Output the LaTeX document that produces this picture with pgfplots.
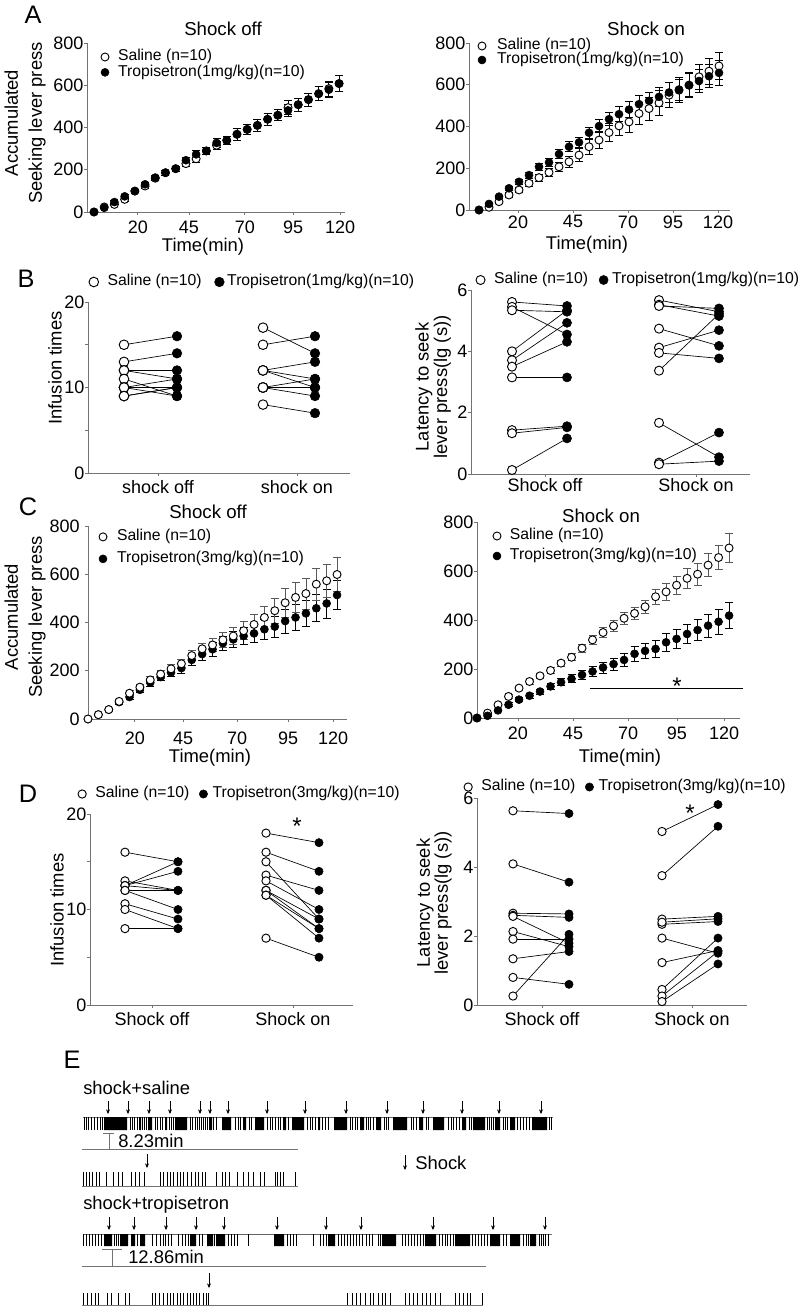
\documentclass[border=0pt]{standalone}
\usepackage{fontspec}
\setmainfont{Liberation Sans}
\usepackage{pgfplots}
\usepackage{pgfplotstable}
\pgfplotsset{compat=1.18}
\usetikzlibrary{arrows.meta}
\definecolor{axgray}{gray}{0.45}
\newcommand\tk{\fontsize{13.5}{16}\selectfont}
\newcommand\lab{\fontsize{13.8}{16}\selectfont}
\newcommand\lgf{\fontsize{11.8}{14}\selectfont}
\newcommand\ttl{\fontsize{14}{16}\selectfont}
\newcommand\pl{\fontsize{19}{22}\selectfont}
\newcommand\st{\fontsize{18}{20}\selectfont}

\pgfplotstableread{
t s se d de
0 0 0 0 0
5 24 4 20 4
10 36 6 47 6
15 60 8 74 8
20 99 8 99 8
25 123 10 131 10
30 160 10 163 10
35 186 12 186 12
40 205 12 205 12
45 229 14 245 14
50 252 16 273 18
55 289 16 289 16
60 316 18 327 20
65 339 20 339 20
70 368 28 368 30
75 391 26 391 26
80 410 28 410 28
85 439 28 439 28
90 458 26 458 26
95 494 32 481 30
100 508 30 508 30
105 532 30 532 30
110 560 34 560 34
115 584 36 579 36
120 608 38 608 38
}\Aoff

\pgfplotstableread{
t s se d de
0 0 0 0 0
5 13 5 29 5
10 40 8 64 8
15 72 10 104 10
20 96 12 135 12
25 128 14 167 14
30 155 16 207 16
35 180 18 228 18
40 207 22 268 22
45 231 26 303 24
50 263 30 324 26
55 303 35 370 28
60 335 40 402 30
65 371 42 435 32
70 403 48 459 36
75 422 50 481 38
80 462 52 507 40
85 486 55 523 42
90 513 58 542 46
95 550 60 563 48
100 574 60 577 50
105 598 60 598 56
110 638 58 618 55
115 665 62 641 55
120 690 66 657 58
}\Aon

\pgfplotstableread{
t s se d de
0 0 0 0 0
5 18 4 18 4
10 39 6 39 6
15 73 8 70 8
20 107 10 91 10
25 132 12 121 12
30 162 14 151 14
35 186 16 174 16
40 208 18 193 18
45 229 20 211 20
50 263 22 245 22
55 291 24 269 24
60 307 28 289 28
65 328 30 314 30
70 344 34 330 32
75 366 38 344 34
80 392 42 355 36
85 421 46 372 40
90 449 52 383 44
95 482 60 406 50
100 504 64 421 54
105 520 64 438 54
110 559 66 459 56
115 573 68 479 60
120 599 72 514 60
}\Coff

\pgfplotstableread{
t s se d de
0 0 0 0 0
5 20 4 9 4
10 54 6 31 6
15 88 8 54 8
20 122 8 75 8
25 149 10 91 10
30 172 10 108 10
35 194 12 129 12
40 224 12 146 14
45 248 14 160 16
50 285 16 176 18
55 319 18 190 20
60 349 20 206 22
65 376 22 220 24
70 407 24 237 28
75 427 26 262 30
80 454 28 274 32
85 495 30 282 34
90 515 34 309 36
95 542 38 323 38
100 570 40 343 40
105 587 44 359 44
110 624 48 377 46
115 655 50 393 50
120 694 58 418 52
}\Con

\pgfplotstableread{
soff toff son ton
15 16 17 14
13 14 15 16
12 12 12 13
12 11 12 11
11 9 12 10
10 11 10 11
10 10 10 10
10 9 10 9
9 10 10 10
9 10 8 7
}\Bl

\pgfplotstableread{
soff toff son ton
5.61 5.48 5.67 5.29
5.45 4.55 5.52 5.15
5.34 5.29 5.48 5.40
4.00 5.34 4.74 4.18
3.71 4.93 4.12 4.69
3.50 4.31 3.95 3.77
3.15 3.15 3.37 5.22
1.43 1.56 1.67 0.55
1.33 1.52 0.37 1.35
0.13 1.16 0.32 0.42
}\Br

\pgfplotstableread{
soff toff son ton
16 15 18 17
13 12 16 14
12.5 15 15 9
12.5 14 13.6 12
12.5 12 13 10
12 10 12 9
10.6 9 12 8
10 8 11.5 8
8 8 11.5 7
12 12 7 5
}\Dl

\pgfplotstableread{
soff toff son ton
5.63 5.55 5.03 5.81
4.09 3.56 3.75 5.18
2.66 2.64 2.49 2.57
2.60 2.54 2.34 2.42
2.57 1.79 1.94 1.50
2.13 1.69 1.23 1.58
1.91 1.91 0.45 1.94
1.34 1.55 0.26 1.55
0.80 0.60 0.10 1.19
0.26 2.05 2.40 2.50
}\Dr

\pgfplotsset{
  myax/.style={
    scale only axis, anchor=south west, clip=false,
    axis lines=left, axis line style={-, draw=axgray, line width=0.7pt},
    tick style={draw=axgray, line width=0.7pt},
    tick align=outside, major tick length=2pt, minor tick length=2pt,
    tick label style={font=\tk},
    yticklabel style={inner xsep=0.5pt},
    xticklabel style={inner ysep=1pt},
    /pgf/number format/assume math mode=true,
    /pgf/number format/1000 sep={},
    legend cell align=left,
    legend style={draw=none, fill=none, inner sep=0pt, outer sep=0pt, font=\lgf,
      nodes={inner xsep=0pt, inner ysep=0pt, text height=8pt, text depth=2.5pt}},
    legend image code/.code={\draw[##1] plot coordinates {(0pt,0pt)};},
  },
  sal/.style={only marks, mark=*, mark size=3pt, mark options={fill=white, draw=black, line width=0.7pt}},
  trp/.style={only marks, mark=*, mark size=3pt, mark options={fill=black, draw=black}},
  ebar/.style={error bars/y dir=both, error bars/y explicit,
    error bars/error bar style={black, line width=0.6pt},
    error bars/error mark options={rotate=90, black, mark size=3pt, line width=0.6pt}},
  ebarg/.style={error bars/y dir=both, error bars/y explicit,
    error bars/error bar style={black!65, line width=0.6pt},
    error bars/error mark options={rotate=90, black!65, mark size=3pt, line width=0.6pt}},
  pairline/.style={black, line width=0.5pt},
  rast/.style={black, line width=0.45pt},
  arr/.style={black, line width=0.5pt, -{Stealth[length=3.5pt, width=3pt]}},
  sbar/.style={axgray, line width=0.6pt},
}

\begin{document}
\begin{tikzpicture}[x=0.75pt, y=-0.75pt]
\path[use as bounding box] (0,0) rectangle (798,1306);
\coordinate (pAL) at (87,212);
\coordinate (pAR) at (469,210);
\coordinate (pBL) at (88,473);
\coordinate (pBR) at (471,474);
\coordinate (pCL) at (88,719);
\coordinate (pCR) at (477,718);
\coordinate (pDL) at (90,1005);
\coordinate (pDR) at (477,1005);
\coordinate (pE) at (315,1193);

% ---------------- A left
\begin{axis}[myax, at={(pAL)}, width=193.5pt, height=126.75pt,
  xmin=-3.43, xmax=122.9, ymin=0, ymax=800, ytick={0,200,400,600,800},
  xtick={21.5,46.5,73.9,97.5,120.5}, xticklabels={20,45,70,95,120}, xticklabel shift=3.4pt,
  legend style={at={(0.0543,0.9586)}, anchor=north west, row sep=1pt, /tikz/column 1/.style={column sep=6.75pt}}]
\addplot[sal, ebar] table[x=t, y=s, y error=se] {\Aoff};
\addlegendentry{Saline (n=10)}
\addplot[trp, ebar] table[x=t, y=d, y error=de] {\Aoff};
\addlegendentry{Tropisetron(1mg/kg)(n=10)}
\end{axis}

% ---------------- A right
\begin{axis}[myax, at={(pAR)}, width=195.75pt, height=125.25pt,
  xmin=-5, xmax=125.5, ymin=0, ymax=800, ytick={0,200,400,600,800},
  xtick={19.5,47,74.5,97,119.5}, xticklabels={20,45,70,95,120}, xticklabel shift=1pt,
  legend style={at={(0.0345,1.024)}, anchor=north west, row sep=0pt, /tikz/column 1/.style={column sep=8.25pt}}]
\addplot[sal, ebar] table[x=t, y=s, y error=se] {\Aon};
\addlegendentry{Saline (n=10)}
\addplot[trp, ebar] table[x=t, y=d, y error=de] {\Aon};
\addlegendentry{Tropisetron(1mg/kg)(n=10)}
\end{axis}

% ---------------- B left
\begin{axis}[myax, at={(pBL)}, width=196.5pt, height=128.25pt,
  xmin=88, xmax=350, ymin=0, ymax=20, ytick={0,10,20}, minor ytick={5,15},
  xtick={158,297}, xticklabels={shock off, shock on}, xticklabel shift=2.25pt,
  legend columns=2,
  legend style={at={(0.0038,1.117)}, anchor=west, /tikz/column 1/.style={column sep=6.75pt},
    /tikz/column 2/.style={column sep=9.75pt}, /tikz/column 3/.style={column sep=2.25pt}}]
\addplot[pairline, forget plot, quiver={u=53, v=\thisrow{toff}-\thisrow{soff}}] table[x expr=124, y=soff] {\Bl};
\addplot[pairline, forget plot, quiver={u=52, v=\thisrow{ton}-\thisrow{son}}] table[x expr=263, y=son] {\Bl};
\addplot[sal, mark size=3.6pt] table[x expr=124, y=soff] {\Bl};
\addlegendentry{Saline (n=10)}
\addplot[trp, mark size=3.6pt] table[x expr=177, y=toff] {\Bl};
\addlegendentry{Tropisetron(1mg/kg)(n=10)}
\addplot[sal, mark size=3.6pt, forget plot] table[x expr=263, y=son] {\Bl};
\addplot[trp, mark size=3.6pt, forget plot] table[x expr=315, y=ton] {\Bl};
\end{axis}

% ---------------- B right
\begin{axis}[myax, at={(pBR)}, width=209.25pt, height=138pt,
  xmin=471, xmax=750, ymin=0, ymax=6, ytick={0,2,4,6},
  xtick={545,696}, xticklabels={Shock off, Shock on}, xticklabel shift=0pt,
  legend columns=2,
  legend style={at={(0.0179,1.0543)}, anchor=west, /tikz/column 1/.style={column sep=6.75pt},
    /tikz/column 2/.style={column sep=8.25pt}, /tikz/column 3/.style={column sep=3pt}}]
\addplot[pairline, forget plot, quiver={u=55, v=\thisrow{toff}-\thisrow{soff}}] table[x expr=512, y=soff] {\Br};
\addplot[pairline, forget plot, quiver={u=60, v=\thisrow{ton}-\thisrow{son}}] table[x expr=659, y=son] {\Br};
\addplot[sal, mark size=3.4pt] table[x expr=512, y=soff] {\Br};
\addlegendentry{Saline (n=10)}
\addplot[trp, mark size=3.4pt] table[x expr=567, y=toff] {\Br};
\addlegendentry{Tropisetron(1mg/kg)(n=10)}
\addplot[sal, mark size=3.4pt, forget plot] table[x expr=659, y=son] {\Br};
\addplot[trp, mark size=3.4pt, forget plot] table[x expr=719, y=ton] {\Br};
\end{axis}

% ---------------- C left
\begin{axis}[myax, at={(pCL)}, width=194.25pt, height=144.75pt,
  xmin=0, xmax=124.8, ymin=0, ymax=800, ytick={0,200,400,600,800}, yticklabel shift=3.5pt,
  xtick={22.6,45.8,71.8,96.4,118.1}, xticklabels={20,45,70,95,120}, xticklabel shift=6.4pt,
  reverse legend,
  legend style={at={(0.0425,0.98)}, anchor=north west, row sep=6pt, /tikz/column 1/.style={column sep=7.5pt}}]
\addplot[trp, ebar] table[x=t, y=d, y error=de] {\Coff};
\addlegendentry{Tropisetron(3mg/kg)(n=10)}
\addplot[sal, ebarg] table[x=t, y=s, y error=se] {\Coff};
\addlegendentry{Saline (n=10)}
\end{axis}

% ---------------- C right
\begin{axis}[myax, at={(pCR)}, width=197.25pt, height=147pt,
  xmin=0, xmax=125.2, ymin=0, ymax=800, ytick={0,200,400,600,800},
  xtick={19.5,45.7,71.9,95.2,117.6}, xticklabels={20,45,70,95,120}, xticklabel shift=3.4pt,
  legend style={at={(0.0608,0.9643)}, anchor=north west, row sep=4.5pt, /tikz/column 1/.style={column sep=6.75pt}}]
\addplot[sal, ebarg] table[x=t, y=s, y error=se] {\Con};
\addlegendentry{Saline (n=10)}
\addplot[trp, ebar] table[x=t, y=d, y error=de] {\Con};
\addlegendentry{Tropisetron(3mg/kg)(n=10)}
\addplot[black, line width=0.6pt, forget plot] coordinates {(53.8,122) (126.7,122)};
\end{axis}

% ---------------- D left
\begin{axis}[myax, at={(pDL)}, width=197.25pt, height=143.25pt,
  xmin=90, xmax=353, ymin=0, ymax=20, ytick={0,10,20}, minor ytick={5,15},
  xtick={152,293}, xticklabels={Shock off, Shock on}, xticklabel shift=2.25pt,
  legend columns=2,
  legend style={at={(-0.0456,1.1047)}, anchor=west, /tikz/column 1/.style={column sep=6.75pt},
    /tikz/column 2/.style={column sep=7.5pt}, /tikz/column 3/.style={column sep=3.75pt}}]
\addplot[pairline, forget plot, quiver={u=53, v=\thisrow{toff}-\thisrow{soff}}] table[x expr=125, y=soff] {\Dl};
\addplot[pairline, forget plot, quiver={u=53, v=\thisrow{ton}-\thisrow{son}}] table[x expr=266, y=son] {\Dl};
\addplot[sal, mark size=3.1pt] table[x expr=125, y=soff] {\Dl};
\addlegendentry{Saline (n=10)}
\addplot[trp, mark size=3.1pt] table[x expr=178, y=toff] {\Dl};
\addlegendentry{Tropisetron(3mg/kg)(n=10)}
\addplot[sal, mark size=3.1pt, forget plot] table[x expr=266, y=son] {\Dl};
\addplot[trp, mark size=3.1pt, forget plot] table[x expr=319, y=ton] {\Dl};
\end{axis}

% ---------------- D right
\begin{axis}[myax, at={(pDR)}, width=202.5pt, height=155.25pt,
  xmin=477, xmax=747, ymin=0, ymax=6, ytick={0,2,4,6},
  xtick={542,692}, xticklabels={Shock off, Shock on}, xticklabel shift=2.25pt,
  legend columns=2,
  legend style={at={(-0.0481,1.0531)}, anchor=west, /tikz/column 1/.style={column sep=6.75pt},
    /tikz/column 2/.style={column sep=7.5pt}, /tikz/column 3/.style={column sep=3.75pt}}]
\addplot[pairline, forget plot, quiver={u=56, v=\thisrow{toff}-\thisrow{soff}}] table[x expr=513, y=soff] {\Dr};
\addplot[pairline, forget plot, quiver={u=56, v=\thisrow{ton}-\thisrow{son}}] table[x expr=662, y=son] {\Dr};
\addplot[sal, mark size=3.1pt] table[x expr=513, y=soff] {\Dr};
\addlegendentry{Saline (n=10)}
\addplot[trp, mark size=3.1pt] table[x expr=569, y=toff] {\Dr};
\addlegendentry{Tropisetron(3mg/kg)(n=10)}
\addplot[sal, mark size=3.1pt, forget plot] table[x expr=662, y=son] {\Dr};
\addplot[trp, mark size=3.1pt, forget plot] table[x expr=718, y=ton] {\Dr};
\end{axis}

% ---------------- E raster
\begin{axis}[scale only axis, anchor=center, at={(pE)}, width=382.5pt, height=169.5pt,
  xmin=60, xmax=570, ymin=1080, ymax=1306, y dir=reverse, axis lines=none, clip=false]
\addplot[sbar] coordinates {(83,1117) (553,1117)};
\addplot[rast, quiver={u=0, v=13}] table[x index=0, y expr=1117, row sep=\\] {84\\86\\88\\91\\94\\97\\100\\102\\130\\132\\134\\137\\142\\144\\146\\155\\157\\160\\162\\169\\171\\173\\190\\192\\195\\197\\199\\201\\203\\205\\207\\209\\213\\216\\235\\238\\240\\243\\249\\251\\267\\270\\272\\275\\278\\280\\288\\307\\310\\312\\315\\322\\325\\328\\350\\352\\355\\357\\366\\368\\370\\373\\376\\384\\386\\388\\411\\413\\416\\419\\426\\428\\448\\451\\453\\456\\459\\469\\471\\487\\489\\491\\493\\503\\505\\507\\517\\520\\523\\526\\529\\549\\551\\};
\addplot[fill=black, draw=none] coordinates {(104,1117)(104,1130)(127,1130)(127,1117)(139,1117)(139,1130)(141,1130)(141,1117)(148,1117)(148,1130)(152,1130)(152,1117)(165,1117)(165,1130)(167,1130)(167,1117)(175,1117)(175,1130)(187,1130)(187,1117)(210,1117)(210,1130)(212,1130)(212,1117)(222,1117)(222,1130)(231,1130)(231,1117)(244,1117)(244,1130)(246,1130)(246,1117)(255,1117)(255,1130)(264,1130)(264,1117)(283,1117)(283,1130)(286,1130)(286,1117)(292,1117)(292,1130)(304,1130)(304,1117)(318,1117)(318,1130)(320,1130)(320,1117)(334,1117)(334,1130)(347,1130)(347,1117)(360,1117)(360,1130)(364,1130)(364,1117)(377,1117)(377,1130)(381,1130)(381,1117)(393,1117)(393,1130)(407,1130)(407,1117)(420,1117)(420,1130)(423,1130)(423,1117)(433,1117)(433,1130)(444,1130)(444,1117)(462,1117)(462,1130)(466,1130)(466,1117)(473,1117)(473,1130)(485,1130)(485,1117)(495,1117)(495,1130)(500,1130)(500,1117)(510,1117)(510,1130)(515,1130)(515,1117)(532,1117)(532,1130)(547,1130)(547,1117)};
\addplot[arr, quiver={u=0, v=13}] table[x index=0, y expr=1101, row sep=\\] {108\\128\\149\\170\\200\\210\\228\\267\\305\\346\\387\\423\\462\\499\\541\\};
\addplot[sbar] coordinates {(103,1133) (114,1133)};
\addplot[sbar] coordinates {(109,1133) (109,1149)};
\addplot[sbar] coordinates {(82,1149) (298,1149)};
\addplot[rast, quiver={u=0, v=14}] table[x index=0, y expr=1172, row sep=\\] {83\\86\\89\\92\\96\\99\\106\\113\\118\\122\\131\\135\\139\\144\\160\\163\\167\\170\\173\\177\\180\\183\\187\\191\\195\\198\\202\\205\\216\\222\\225\\229\\237\\243\\248\\253\\260\\264\\275\\277\\280\\283\\295\\};
\addplot[sbar] coordinates {(82,1186) (298,1186)};
\addplot[arr, quiver={u=0, v=14}] table[x index=0, y expr=1154, row sep=\\] {147\\};
\addplot[arr, quiver={u=0, v=15}] table[x index=0, y expr=1155, row sep=\\] {405\\};
\addplot[sbar] coordinates {(83,1234) (552,1234)};
\addplot[rast, quiver={u=0, v=12}] table[x index=0, y expr=1234, row sep=\\] {83\\86\\89\\92\\95\\98\\101\\114\\116\\118\\137\\152\\156\\160\\163\\165\\168\\171\\178\\182\\185\\188\\199\\202\\214\\228\\231\\234\\237\\248\\287\\290\\293\\296\\313\\320\\323\\326\\338\\341\\344\\347\\350\\353\\356\\359\\362\\366\\369\\372\\378\\380\\402\\405\\408\\411\\414\\417\\420\\423\\439\\442\\445\\447\\450\\453\\472\\475\\478\\481\\484\\487\\503\\506\\523\\526\\528\\539\\541\\543\\545\\548\\};
\addplot[fill=black, draw=none] coordinates {(104,1234)(104,1246)(112,1246)(112,1234)(120,1234)(120,1246)(128,1246)(128,1234)(131,1234)(131,1246)(135,1246)(135,1234)(140,1234)(140,1246)(145,1246)(145,1234)(190,1234)(190,1246)(196,1246)(196,1234)(207,1234)(207,1246)(213,1246)(213,1234)(216,1234)(216,1246)(225,1246)(225,1234)(274,1234)(274,1246)(284,1246)(284,1234)(328,1234)(328,1246)(335,1246)(335,1234)(382,1234)(382,1246)(396,1246)(396,1234)(425,1234)(425,1246)(436,1246)(436,1234)(455,1234)(455,1246)(470,1246)(470,1234)(490,1234)(490,1246)(500,1246)(500,1234)(510,1234)(510,1246)(520,1246)(520,1234)(530,1234)(530,1246)(536,1246)(536,1234)};
\addplot[arr, quiver={u=0, v=13}] table[x index=0, y expr=1217, row sep=\\] {109\\134\\166\\196\\224\\277\\326\\361\\433\\493\\545\\};
\addplot[sbar] coordinates {(102,1249) (122,1249)};
\addplot[sbar] coordinates {(112,1249) (112,1266)};
\addplot[sbar] coordinates {(82,1266) (486,1266)};
\addplot[rast, quiver={u=0, v=12}] table[x index=0, y expr=1293, row sep=\\] {83\\87\\91\\95\\98\\107\\111\\118\\125\\129\\152\\155\\159\\163\\167\\170\\173\\177\\180\\183\\187\\190\\193\\196\\199\\203\\206\\208\\347\\352\\356\\360\\365\\370\\373\\378\\382\\385\\390\\405\\409\\413\\417\\422\\426\\430\\435\\440\\455\\459\\463\\467\\470\\482\\};
\addplot[sbar] coordinates {(82,1305) (483,1305)};
\addplot[arr, quiver={u=0, v=15}] table[x index=0, y expr=1273, row sep=\\] {209\\};
\end{axis}

% ---------------- texts
\node[font=\pl] at (33,15) {A};
\node[font=\ttl] at (223,29) {Shock off};
\node[font=\ttl] at (646,29) {Shock on};
\node[font=\lab] at (203,247) {Time(min)};
\node[font=\lab] at (587,245) {Time(min)};
\node[font=\fontsize{13.8}{18}\selectfont, rotate=90, align=center] at (25,123) {Accumulated\\Seeking lever press};

\node[font=\pl] at (26,279) {B};
\node[font=\lab, rotate=90] at (55,368) {Infusion times};
\node[font=\fontsize{13.8}{12.75}\selectfont, rotate=90, align=center] at (433,387) {Latency to seek\\lever press(lg (s))};

\node[font=\pl] at (28,507) {C};
\node[font=\ttl] at (208,512) {Shock off};
\node[font=\ttl] at (601,516) {Shock on};
\node[font=\fontsize{13.8}{18}\selectfont, rotate=90, align=center] at (25,617) {Accumulated\\Seeking lever press};
\node[font=\lab] at (210,758) {Time(min)};
\node[font=\lab] at (620,758) {Time(min)};
\node[font=\st] at (677,686) {*};

\node[font=\pl] at (28,794) {D};
\node[font=\lab, rotate=90] at (57,910) {Infusion times};
\node[font=\fontsize{13.8}{13.5}\selectfont, rotate=90, align=center] at (434,903) {Latency to seek\\lever press(lg (s))};
\node[font=\st] at (297,826) {*};
\node[font=\st] at (690,813) {*};

\node[font=\pl] at (72,1060) {E};
\node[font=\lab, anchor=west, inner sep=0pt] at (83,1088) {shock+saline};
\node[font=\lab, anchor=west, inner sep=0pt] at (118,1141) {8.23min};
\node[font=\lab, anchor=west, inner sep=0pt] at (415,1163) {Shock};
\node[font=\lab, anchor=west, inner sep=0pt] at (83,1205) {shock+tropisetron};
\node[font=\lab, anchor=west, inner sep=0pt] at (128,1257) {12.86min};
\end{tikzpicture}
\end{document}
